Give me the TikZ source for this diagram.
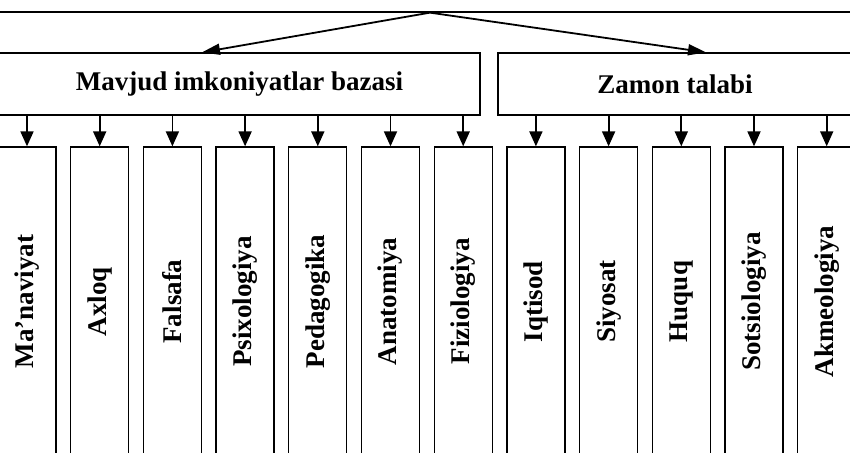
\documentclass[tikz,border=0pt]{standalone}
\usepackage{fontspec}
\setmainfont{Liberation Serif}
\usetikzlibrary{arrows.meta}

\tikzset{
  box/.style={draw, line width=1.3pt, inner sep=0pt},
  head/.style={box, font=\bfseries\fontsize{27}{27}\selectfont},
  subject/.style={box, minimum width=58pt, minimum height=309pt,
    font=\bfseries\fontsize{27}{27}\selectfont},
  arr/.style={line width=1.8pt, -{Triangle[length=15pt,width=13pt]}},
  toparr/.style={line width=1.8pt, -{Triangle[length=18pt,width=11pt]}}
}

\begin{document}
\begin{tikzpicture}[x=1pt,y=-1pt]
        \useasboundingbox (0,0) rectangle (850,452);
        \clip (0,0) rectangle (850,452);

        %% Rectangles
        \node[box, minimum width=880pt, minimum height=64pt] (top) at (425,-20) {};
        \node[head, minimum width=481pt, minimum height=62pt] (base) at (239.5,84) {Mavjud imkoniyatlar bazasi};
        \node[head, minimum width=354pt, minimum height=62pt] (zam) at (675,84) {Zamon talabi};
        \foreach \name [count=\i] in {Ma’naviyat, Axloq, Falsafa, Psixologiya, Pedagogika,
                Anatomiya, Fiziologiya, Iqtisod, Siyosat, Huquq, Sotsiologiya, Akmeologiya} {
                \node[subject] (b\i) at ({27+(\i-1)*72.7},301.5) {\rotatebox{90}{\name}};
                }

        % Arrows
        \draw[toparr] ([xshift=5pt]top.south) -- ([xshift=-37.5pt]base.north);
        \draw[toparr] ([xshift=5pt]top.south) -- ([xshift=31pt]zam.north);
        \foreach \i in {1,...,7} {
                \draw[arr] (b\i.north |- base.south) -- (b\i.north);
                }
        \foreach \i in {8,...,12} {
                \draw[arr] (b\i.north |- zam.south) -- (b\i.north);
                }
    \end{tikzpicture}
\end{document}
